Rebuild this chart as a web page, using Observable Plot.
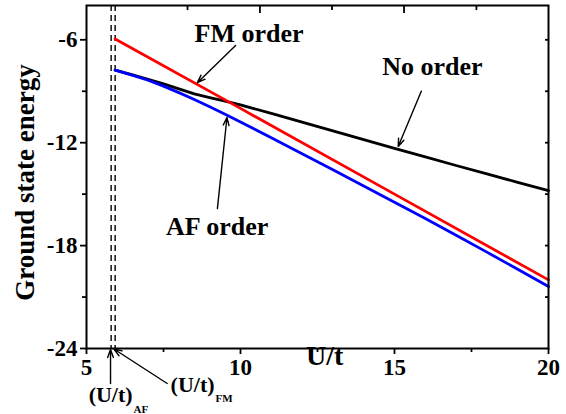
<!DOCTYPE html>
<html><head><meta charset="utf-8">
<script src="https://cdn.jsdelivr.net/npm/d3@7"></script>
<script src="https://cdn.jsdelivr.net/npm/@observablehq/plot@0.6"></script>
<style>html,body{margin:0;padding:0;background:#fff;}</style>
</head><body><div id="chart"></div>
<script>
// U/t values for curved series
const U = [5.93, 6.5, 7.0, 7.5, 8.0, 8.5, 9.0, 9.5, 10, 11, 12, 13, 14, 15, 16, 17, 18, 19, 20];
const noOrder = [-7.77, -8.04, -8.30, -8.57, -8.86, -9.15, -9.37, -9.58, -9.80, -10.29, -10.80, -11.31, -11.82, -12.33, -12.83, -13.33, -13.82, -14.31, -14.79];
const afOrder = [-7.77, -8.07, -8.36, -8.70, -9.08, -9.48, -9.90, -10.34, -10.79, -11.71, -12.64, -13.58, -14.52, -15.47, -16.42, -17.40, -18.38, -19.38, -20.39];
const fmU = [5.93, 10, 15, 20];
const fmOrder = [-5.95, -10.0, -15.0, -20.0];
const criticalU = [5.80, 5.93];

const xTicks = [5, 10, 15, 20];
const xMinor = [7.5, 12.5, 17.5];
const yTicks = [-6, -12, -18, -24];
const yMinor = [-9, -15, -21];
const rightTicks = [-6, -9, -12, -15, -18, -21];
const topMajor = [10.63, 15.31];
const topMinor = [8.28, 12.97, 17.66];

const bigLabels = ["FM order", "No order", "AF order", "U/t"];
const bigLabelU = [10.28, 16.23, 9.24, 12.73];
const bigLabelE = [-5.63, -7.55, -16.87, -24.44];
const bigLabelSize = [26, 26, 26, 28];

const yLabel = "Ground state energy";
const yLabelU = 3.02, yLabelE = -14.32;

const critLabels = ["(U/t)", "(U/t)"];
const critLabelU = [7.73, 5.07];
const critLabelE = [-26.10, -26.68];
const critSubs = ["FM", "AF"];
const critSubU = [9.19, 6.53];
const critSubE = [-26.94, -27.53];

const arrowU1 = [9.84, 15.87, 9.25, 5.78, 7.62];
const arrowE1 = [-6.33, -9.00, -15.84, -26.04, -26.04];
const arrowU2 = [8.60, 15.12, 9.56, 5.78, 5.89];
const arrowE2 = [-8.50, -12.22, -10.53, -24.06, -24.03];

const rows = (xs, ys) => xs.map((u, i) => ({u, e: ys[i]}));
const bigRows = bigLabels.map((t, i) => ({t, u: bigLabelU[i], e: bigLabelE[i], s: bigLabelSize[i]}));
const critRows = critLabels.map((t, i) => ({t, u: critLabelU[i], e: critLabelE[i]}));
const subRows = critSubs.map((t, i) => ({t, u: critSubU[i], e: critSubE[i]}));
const arrowRows = arrowU1.map((u1, i) => ({u1, e1: arrowE1[i], u2: arrowU2[i], e2: arrowE2[i]}));
const fmt = d => String(d);
const font = "'Liberation Serif', 'Times New Roman', serif";

const chart = Plot.plot({
  width: 566, height: 414,
  marginLeft: 86, marginRight: 18, marginTop: 5, marginBottom: 66,
  x: {domain: [5, 20], label: null},
  y: {domain: [-24, -4], label: null},
  style: {fontFamily: font, background: "#fff", color: "black", overflow: "visible"},
  marks: [
    Plot.ruleX(criticalU, {stroke: "black", strokeWidth: 1.4, strokeDasharray: "6,4"}),
    Plot.line(rows(U, noOrder), {x: "u", y: "e", stroke: "black", strokeWidth: 2.8}),
    Plot.line(rows(U, afOrder), {x: "u", y: "e", stroke: "#0000ff", strokeWidth: 2.8}),
    Plot.line(rows(fmU, fmOrder), {x: "u", y: "e", stroke: "#ff0000", strokeWidth: 2.8}),
    Plot.frame({stroke: "black", strokeWidth: 2}),
    Plot.axisX(xTicks, {anchor: "bottom", tickSize: 6, tickPadding: 4, tickFormat: fmt, fontSize: 23, fontWeight: "bold", strokeWidth: 1.8, label: null}),
    Plot.axisX(xMinor, {anchor: "bottom", tickSize: 4, tickFormat: () => "", strokeWidth: 1.8, label: null}),
    Plot.axisX(topMajor, {anchor: "top", tickSize: -7, tickFormat: () => "", strokeWidth: 1.8, label: null}),
    Plot.axisX(topMinor, {anchor: "top", tickSize: -4, tickFormat: () => "", strokeWidth: 1.8, label: null}),
    Plot.axisY(yTicks, {anchor: "left", tickSize: 6, tickPadding: 3, tickFormat: fmt, fontSize: 23, fontWeight: "bold", strokeWidth: 1.8, label: null}),
    Plot.axisY(yMinor, {anchor: "left", tickSize: 4, tickFormat: () => "", strokeWidth: 1.8, label: null}),
    Plot.axisY(rightTicks, {anchor: "right", tickSize: -4, tickFormat: () => "", strokeWidth: 1.8, label: null}),
    Plot.text(bigRows, {x: "u", y: "e", text: "t", fontSize: "s", fontWeight: "bold", fill: "black"}),
    Plot.text([yLabel], {x: () => yLabelU, y: () => yLabelE, text: d => d, rotate: -90, fontSize: 27, fontWeight: "bold", fill: "black"}),
    Plot.text(critRows, {x: "u", y: "e", text: "t", textAnchor: "start", fontSize: 22, fontWeight: "bold", fill: "black"}),
    Plot.text(subRows, {x: "u", y: "e", text: "t", textAnchor: "start", fontSize: 11, fontWeight: "bold", fill: "black"}),
    Plot.arrow(arrowRows, {x1: "u1", y1: "e1", x2: "u2", y2: "e2", stroke: "black", strokeWidth: 1.4, headLength: 9, headAngle: 40})
  ]
});
document.getElementById("chart").appendChild(chart);
</script>
</body></html>
